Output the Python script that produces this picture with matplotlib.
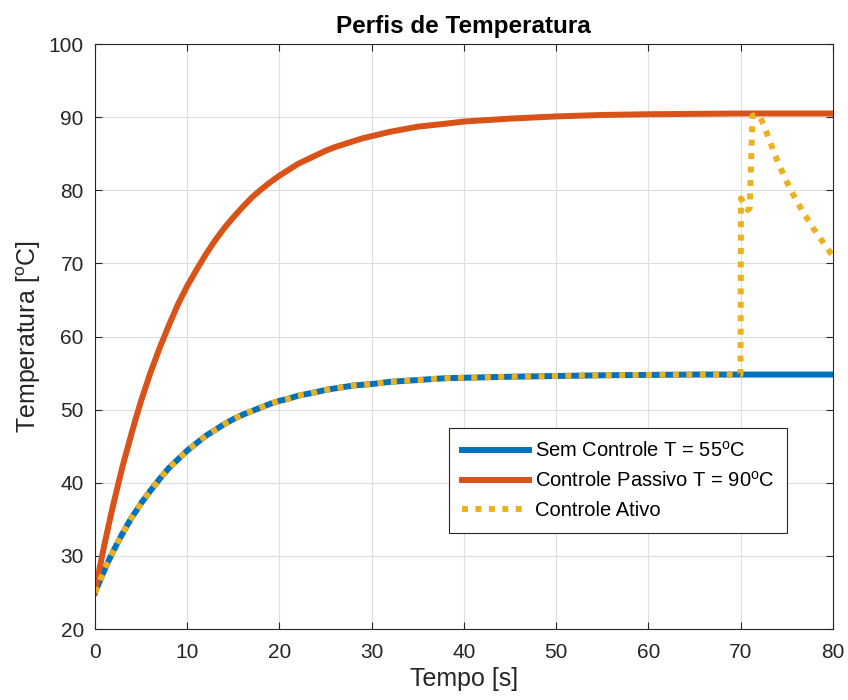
import numpy as np
import matplotlib
matplotlib.use("Agg")
import matplotlib.pyplot as plt

# dados
t = [0, 0.5, 1, 1.5, 2, 2.5, 3, 3.5, 4, 4.5, 5, 6, 7, 8, 9, 10, 11, 12, 13, 14,
     15, 16, 17, 18, 19, 20, 21, 22, 24, 25, 26, 27, 28, 29, 30, 32, 35, 38, 40,
     45, 50, 55, 60, 65, 70, 75, 80]
T_sem = [25.0, 26.5, 28.0, 29.4, 30.7, 31.9, 33.1, 34.2, 35.3, 36.2, 37.2, 38.9,
         40.5, 42.0, 43.2, 44.4, 45.4, 46.4, 47.2, 48.0, 48.7, 49.3, 49.8, 50.3,
         50.8, 51.2, 51.5, 51.9, 52.4, 52.7, 52.9, 53.1, 53.3, 53.4, 53.5, 53.8,
         54.05, 54.3, 54.36, 54.5, 54.6, 54.7, 54.75, 54.8, 54.8, 54.8, 54.8]
T_passivo = [25.0, 28.3, 31.4, 34.3, 37.1, 39.7, 42.3, 44.6, 46.9, 49.1, 51.2,
             55.0, 58.4, 61.5, 64.4, 66.9, 69.1, 71.2, 73.1, 74.8, 76.3, 77.7,
             79.0, 80.1, 81.1, 82.0, 82.8, 83.6, 84.8, 85.4, 85.9, 86.3, 86.7,
             87.1, 87.4, 88.0, 88.7, 89.1, 89.4, 89.8, 90.1, 90.3, 90.4, 90.45,
             90.5, 90.5, 90.5]

# controle ativo: segue o sem controle ate 70 s, depois o pico
t_pico = [70.0, 70.05, 70.8, 71.0, 71.3, 72.0, 72.5, 73, 74, 75, 76, 77, 78, 79, 80]
T_pico = [54.8, 78.9, 77.3, 77.6, 90.2, 90.3, 89.0, 87.3, 84.0, 81.2, 78.7,
          76.6, 74.6, 72.8, 71.0]

n70 = t.index(70)
t_ativo = t[:n70] + t_pico
T_ativo = T_sem[:n70] + T_pico

plt.rcParams['font.family'] = ['Liberation Sans', 'DejaVu Sans']
plt.rcParams['mathtext.fontset'] = 'custom'
plt.rcParams['mathtext.rm'] = 'Liberation Sans'
plt.rcParams['mathtext.it'] = 'Liberation Sans'

cinza = (0.15, 0.15, 0.15)

fig = plt.figure(figsize=(8.48, 7.0), dpi=100)
ax = fig.add_axes([0.112, 0.1014, 0.870, 0.8357])

ax.plot(t, T_sem, color='#0072BD', lw=4.3, label=r'Sem Controle T = 55$^{\mathrm{o}}$C')
ax.plot(t, T_passivo, color='#D95319', lw=4.3, label=r'Controle Passivo T = 90$^{\mathrm{o}}$C')
ax.plot(t_ativo, T_ativo, color='#EDB120', lw=4.3, linestyle=(0, (1, 1.25)),
        label='Controle Ativo')

ax.set_xlim(0, 80)
ax.set_ylim(20, 100)
ax.set_xticks(np.arange(0, 81, 10))
ax.set_yticks(np.arange(20, 101, 10))
ax.grid(True, color=(0.87, 0.87, 0.87), lw=0.8)
ax.set_axisbelow(True)

for s in ax.spines.values():
    s.set_color(cinza)
    s.set_linewidth(0.8)
ax.tick_params(direction='in', length=5, colors=cinza, labelsize=15, top=True, right=True)
ax.tick_params(axis='y', pad=8)
ax.tick_params(axis='x', pad=10)
for lab in ax.get_xticklabels() + ax.get_yticklabels():
    lab.set_color(cinza)

ax.set_title('Perfis de Temperatura', fontsize=17.5, fontweight='bold', pad=8)
ax.set_xlabel('Tempo [s]', fontsize=18, color=cinza, labelpad=4)
ax.set_ylabel(r'Temperatura [$^{\mathrm{o}}$C]', fontsize=18, color=cinza, labelpad=4)

leg = ax.legend(loc='upper left', bbox_to_anchor=(0.48, 0.344), borderaxespad=0,
                fontsize=14.5, handlelength=3.3, handletextpad=0.3, fancybox=False,
                framealpha=1, edgecolor=cinza, borderpad=0.65, labelspacing=0.5)
leg.get_frame().set_linewidth(0.8)

fig.savefig('out.png', dpi=100)
